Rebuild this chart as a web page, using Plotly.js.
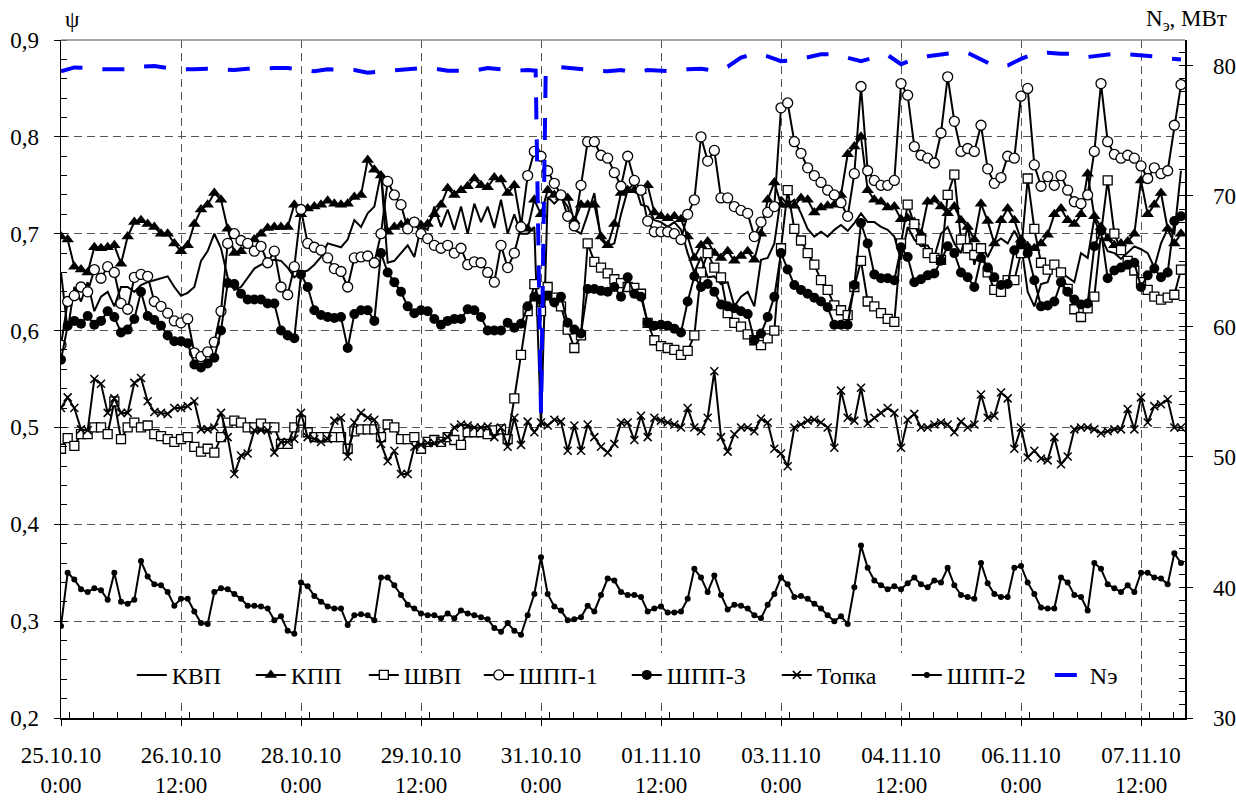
<!DOCTYPE html>
<html><head><meta charset="utf-8">
<script src="https://cdn.plot.ly/plotly-3.0.1.min.js"></script>
<style>html,body{margin:0;padding:0;background:#fff}#chart{width:1236px;height:800px}</style>
</head><body><div id="chart"></div>
<script>
// time stamps, hours from 25.10.10 0:00
const hours = [0,2,4,6,8,10,12,14,16,18,20,22,24,26,28,30,32,34,36,38,40,42,44,46,48,50,52,54,56,58,60,62,64,66,68,70,72,74,76,78,80,82,84,86,88,90,92,94,96,98,100,102,104,106,108,110,112,114,116,118,120,122,124,126,128,130,132,134,136,138,140,142,144,146,148,150,152,154,156,158,160,162,164,166,168,170,172,174,176,178,180,182,184,186,188,190,192,194,196,198,200,202,204,206,208,210,212,214,216,218,220,222,224,226,228,230,232,234,236,238,240,242,244,246,248,250,252,254,256,258,260,262,264,266,268,270,272,274,276,278,280,282,284,286,288,290,292,294,296,298,300,302,304,306,308,310,312,314,316,318,320,322,324,326,328,330,332,334,336];

const kvp = [0.66,0.6,0.645,0.63,0.65,0.62,0.635,0.64,0.625,0.645,
0.645,0.64,0.647,0.65,0.652,0.654,0.656,0.645,0.636,0.639,
0.645,0.672,0.682,0.7,0.685,0.655,0.642,0.645,0.655,0.664,
0.668,0.671,0.673,0.672,0.665,0.655,0.66,0.662,0.668,0.676,
0.69,0.688,0.686,0.694,0.714,0.707,0.721,0.728,0.762,0.67,
0.672,0.68,0.688,0.676,0.707,0.704,0.728,0.707,0.725,0.704,
0.728,0.7,0.731,0.712,0.728,0.706,0.735,0.7,0.72,0.7,
0.7,0.707,0.5,0.738,0.731,0.738,0.728,0.704,0.7,0.72,
0.742,0.694,0.687,0.69,0.72,0.745,0.752,0.73,0.728,0.714,
0.712,0.707,0.712,0.704,0.68,0.66,0.676,0.655,0.656,0.648,
0.65,0.625,0.635,0.64,0.625,0.673,0.675,0.69,0.738,0.73,
0.735,0.721,0.705,0.697,0.702,0.697,0.704,0.709,0.703,0.711,
0.721,0.712,0.712,0.707,0.704,0.697,0.673,0.707,0.694,0.687,
0.688,0.676,0.7,0.707,0.69,0.68,0.707,0.668,0.69,0.676,
0.69,0.695,0.69,0.703,0.69,0.64,0.625,0.648,0.65,0.67,
0.66,0.655,0.65,0.68,0.675,0.716,0.697,0.682,0.68,0.674,
0.68,0.687,0.684,0.68,0.665,0.69,0.705,0.7,0.765];

const kpp = [0.697,0.694,0.666,0.663,0.66,0.686,0.685,0.686,0.688,0.669,
0.697,0.712,0.714,0.71,0.707,0.7,0.7,0.69,0.682,0.688,
0.71,0.725,0.73,0.742,0.735,0.705,0.68,0.682,0.69,0.694,
0.7,0.706,0.707,0.707,0.707,0.73,0.72,0.726,0.728,0.73,
0.734,0.731,0.73,0.731,0.738,0.74,0.776,0.766,0.76,0.702,
0.707,0.709,0.711,0.712,0.709,0.71,0.72,0.73,0.747,0.74,
0.745,0.749,0.757,0.75,0.748,0.758,0.756,0.742,0.75,0.71,
0.705,0.735,0.72,0.745,0.74,0.738,0.737,0.713,0.73,0.73,
0.73,0.697,0.688,0.71,0.742,0.745,0.745,0.744,0.75,0.722,
0.718,0.716,0.718,0.715,0.697,0.675,0.688,0.692,0.68,0.675,
0.682,0.672,0.677,0.682,0.673,0.7,0.735,0.753,0.73,0.73,
0.729,0.737,0.735,0.722,0.727,0.729,0.73,0.74,0.782,0.79,
0.8,0.745,0.735,0.733,0.727,0.728,0.715,0.716,0.712,0.7,
0.733,0.735,0.728,0.721,0.728,0.714,0.707,0.694,0.731,0.713,
0.69,0.714,0.726,0.714,0.694,0.687,0.685,0.69,0.699,0.72,
0.726,0.714,0.71,0.72,0.762,0.718,0.707,0.695,0.688,0.69,
0.692,0.7,0.755,0.72,0.73,0.742,0.705,0.69,0.7];

const shvp = [0.478,0.489,0.481,0.493,0.493,0.5,0.5,0.493,0.527,0.488,
0.5,0.505,0.5,0.502,0.493,0.491,0.488,0.485,0.488,0.49,
0.48,0.475,0.478,0.474,0.49,0.505,0.507,0.505,0.5,0.5,
0.504,0.5,0.5,0.483,0.483,0.5,0.507,0.495,0.49,0.49,
0.49,0.49,0.49,0.478,0.496,0.498,0.498,0.498,0.49,0.503,
0.5,0.488,0.488,0.49,0.478,0.485,0.487,0.485,0.49,0.487,
0.482,0.495,0.495,0.495,0.493,0.497,0.498,0.488,0.53,0.575,
0.62,0.648,0.62,0.645,0.634,0.625,0.601,0.582,0.595,0.69,
0.671,0.665,0.659,0.653,0.649,0.645,0.644,0.638,0.608,0.59,
0.584,0.582,0.58,0.575,0.579,0.595,0.66,0.68,0.665,0.655,
0.618,0.608,0.604,0.596,0.59,0.585,0.592,0.6,0.685,0.745,
0.705,0.693,0.68,0.668,0.652,0.642,0.626,0.621,0.616,0.645,
0.672,0.63,0.625,0.618,0.612,0.609,0.69,0.73,0.71,0.694,
0.68,0.675,0.673,0.74,0.761,0.694,0.685,0.678,0.685,0.66,
0.642,0.64,0.652,0.652,0.68,0.757,0.705,0.67,0.663,0.668,
0.66,0.643,0.622,0.614,0.623,0.635,0.7,0.755,0.7,0.683,
0.672,0.662,0.65,0.642,0.635,0.632,0.634,0.637,0.663];

const shpp1 = [0.585,0.63,0.636,0.645,0.64,0.663,0.654,0.666,0.66,0.628,
0.622,0.655,0.658,0.656,0.63,0.625,0.618,0.61,0.608,0.612,
0.577,0.573,0.578,0.588,0.62,0.69,0.7,0.693,0.69,0.682,
0.687,0.67,0.682,0.645,0.637,0.666,0.725,0.69,0.686,0.683,
0.675,0.664,0.661,0.645,0.675,0.676,0.677,0.67,0.7,0.754,
0.74,0.73,0.705,0.712,0.7,0.695,0.688,0.685,0.688,0.68,
0.685,0.668,0.671,0.67,0.66,0.65,0.688,0.665,0.68,0.707,
0.76,0.785,0.78,0.765,0.752,0.74,0.718,0.708,0.75,0.795,
0.795,0.781,0.778,0.763,0.749,0.78,0.755,0.745,0.713,0.702,
0.702,0.702,0.7,0.694,0.72,0.735,0.8,0.775,0.786,0.737,
0.737,0.728,0.724,0.721,0.697,0.712,0.722,0.728,0.83,0.835,
0.795,0.783,0.768,0.76,0.753,0.745,0.74,0.732,0.718,0.762,
0.852,0.765,0.755,0.75,0.75,0.755,0.855,0.843,0.79,0.781,
0.778,0.773,0.804,0.862,0.816,0.785,0.788,0.785,0.812,0.767,
0.752,0.758,0.78,0.778,0.842,0.85,0.771,0.749,0.759,0.75,
0.76,0.745,0.733,0.731,0.74,0.785,0.855,0.795,0.782,0.778,
0.781,0.778,0.77,0.757,0.768,0.762,0.765,0.812,0.854];

const shpp3 = [0.57,0.605,0.61,0.607,0.615,0.606,0.61,0.62,0.614,0.598,
0.601,0.612,0.64,0.615,0.611,0.605,0.595,0.589,0.589,0.587,
0.565,0.562,0.566,0.572,0.6,0.649,0.648,0.638,0.632,0.632,
0.632,0.628,0.628,0.6,0.595,0.592,0.658,0.645,0.621,0.616,
0.614,0.613,0.614,0.582,0.617,0.621,0.621,0.61,0.68,0.66,
0.65,0.64,0.625,0.618,0.621,0.62,0.612,0.606,0.61,0.612,
0.612,0.622,0.621,0.614,0.6,0.6,0.6,0.608,0.603,0.607,
0.625,0.635,0.632,0.636,0.629,0.635,0.608,0.601,0.597,0.643,
0.643,0.641,0.64,0.645,0.635,0.655,0.638,0.635,0.608,0.605,
0.606,0.605,0.602,0.598,0.63,0.656,0.645,0.648,0.64,0.627,
0.625,0.623,0.62,0.617,0.59,0.597,0.614,0.635,0.68,0.663,
0.647,0.642,0.638,0.634,0.63,0.624,0.606,0.606,0.606,0.647,
0.711,0.69,0.658,0.654,0.654,0.652,0.686,0.676,0.65,0.653,
0.657,0.659,0.672,0.687,0.68,0.66,0.655,0.645,0.675,0.665,
0.655,0.647,0.648,0.683,0.689,0.68,0.652,0.625,0.626,0.63,
0.65,0.64,0.632,0.627,0.628,0.687,0.703,0.654,0.662,0.665,
0.668,0.67,0.645,0.657,0.664,0.655,0.66,0.713,0.718];

const topka = [0.52,0.531,0.52,0.498,0.497,0.55,0.545,0.515,0.53,0.515,
0.515,0.546,0.551,0.527,0.516,0.515,0.514,0.52,0.52,0.522,
0.527,0.498,0.498,0.5,0.515,0.49,0.452,0.471,0.473,0.497,
0.497,0.497,0.474,0.485,0.485,0.488,0.515,0.49,0.488,0.485,
0.488,0.507,0.51,0.47,0.505,0.515,0.51,0.508,0.483,0.465,
0.476,0.452,0.452,0.48,0.482,0.484,0.484,0.486,0.49,0.5,
0.503,0.502,0.5,0.5,0.501,0.49,0.5,0.48,0.51,0.482,
0.506,0.495,0.505,0.502,0.508,0.506,0.476,0.502,0.476,0.503,
0.49,0.48,0.474,0.483,0.505,0.505,0.487,0.512,0.49,0.51,
0.507,0.505,0.503,0.5,0.52,0.5,0.496,0.51,0.558,0.49,
0.475,0.493,0.5,0.5,0.496,0.509,0.505,0.478,0.473,0.46,
0.5,0.503,0.507,0.508,0.505,0.5,0.479,0.538,0.51,0.507,
0.541,0.504,0.51,0.515,0.52,0.515,0.479,0.508,0.514,0.5,
0.5,0.503,0.505,0.503,0.495,0.506,0.5,0.503,0.534,0.51,
0.512,0.536,0.53,0.478,0.5,0.469,0.476,0.468,0.466,0.49,
0.462,0.47,0.498,0.5,0.5,0.498,0.494,0.496,0.498,0.498,
0.519,0.498,0.531,0.505,0.522,0.524,0.529,0.5,0.5];

const shpp2 = [0.295,0.35,0.343,0.333,0.33,0.334,0.332,0.322,0.35,0.32,
0.318,0.322,0.362,0.346,0.338,0.337,0.33,0.316,0.323,0.323,
0.31,0.298,0.297,0.33,0.334,0.333,0.328,0.323,0.316,0.316,
0.315,0.313,0.301,0.305,0.29,0.287,0.34,0.336,0.326,0.32,
0.315,0.313,0.313,0.296,0.306,0.307,0.306,0.301,0.345,0.345,
0.337,0.327,0.317,0.313,0.308,0.306,0.306,0.303,0.308,0.303,
0.311,0.308,0.306,0.304,0.302,0.293,0.289,0.298,0.29,0.286,
0.306,0.328,0.366,0.328,0.315,0.311,0.301,0.302,0.304,0.316,
0.31,0.327,0.344,0.342,0.33,0.327,0.327,0.325,0.31,0.313,
0.315,0.309,0.309,0.31,0.323,0.354,0.345,0.33,0.347,0.327,
0.312,0.317,0.316,0.313,0.306,0.303,0.317,0.328,0.345,0.338,
0.325,0.326,0.323,0.318,0.313,0.306,0.3,0.305,0.297,0.335,
0.378,0.355,0.342,0.337,0.333,0.336,0.333,0.339,0.345,0.338,
0.335,0.342,0.34,0.355,0.337,0.327,0.325,0.323,0.36,0.339,
0.328,0.325,0.325,0.355,0.357,0.34,0.328,0.314,0.313,0.313,
0.345,0.34,0.327,0.325,0.311,0.36,0.354,0.338,0.334,0.33,
0.337,0.33,0.35,0.35,0.345,0.344,0.338,0.37,0.36];

// electric load, MW (right axis)
const hoursN = [0,4,8,12,16,20,24,28,32,36,40,44,48,52,56,60,64,68,72,76,80,84,88,92,96,100,104,108,112,116,120,124,128,132,136,140,142.4,144,145.4,148,152,156,160,164,168,172,176,180,184,188,192,196,200,204,208,212,216,220,224,228,232,236,240,244,248,252,256,260,264,268,272,276,280,284,288,292,296,300,304,308,312,316,320,324,328,332,336];
const nE = [79.55,79.85,79.8,79.7,79.7,79.7,79.9,79.95,79.8,79.7,79.7,79.75,79.7,79.65,79.75,79.8,79.8,79.8,79.65,79.55,79.7,79.7,79.65,79.45,79.55,79.65,79.7,79.8,79.75,79.6,79.6,79.6,79.8,79.7,79.6,79.65,79.6,53.4,79.3,79.9,79.8,79.75,79.6,79.55,79.65,79.45,79.65,79.6,79.55,79.7,79.75,79.6,79.9,80.6,80.9,80.7,80.33,80.4,80.6,80.85,80.85,80.55,80.33,80.6,80.8,80.1,80.5,80.7,80.8,80.97,80.97,80.5,79.95,80.0,80.5,80.9,80.97,80.9,80.9,80.65,80.75,80.9,80.85,80.8,80.7,80.55,80.45];

const names = ['КВП','КПП','ШВП','ШПП-1','ШПП-3','Топка','ШПП-2','Nэ'];

function toDate(h){
  return new Date(Date.UTC(2010,9,25) + h*3600000).toISOString().slice(0,16).replace('T',' ');
}
const X = hours.map(toDate);
const XN = hoursN.map(toDate);

const FONT = '"Liberation Serif", "Times New Roman", serif';
const lineK = {color:'#000', width:2};

const traces = [
  {x:X, y:kvp, name:names[0], mode:'lines', line:lineK, legendwidth:74},
  {x:X, y:kpp, name:names[1], mode:'lines+markers', line:lineK, legendwidth:68,
   marker:{symbol:'triangle-up', size:11, color:'#000'}},
  {x:X, y:shvp, name:names[2], mode:'lines+markers', line:lineK, legendwidth:70,
   marker:{symbol:'square', size:9, color:'#fff', line:{color:'#000', width:1.3}}},
  {x:X, y:shpp1, name:names[3], mode:'lines+markers', line:lineK, legendwidth:103,
   marker:{symbol:'circle', size:10, color:'#fff', line:{color:'#000', width:1.3}}},
  {x:X, y:shpp3, name:names[4], mode:'lines+markers', line:lineK, legendwidth:105,
   marker:{symbol:'circle', size:10, color:'#000'}},
  {x:X, y:topka, name:names[5], mode:'lines+markers', line:lineK, legendwidth:85,
   marker:{symbol:'x-thin-open', size:8, color:'#000', line:{color:'#000', width:1.5}}},
  {x:X, y:shpp2, name:names[6], mode:'lines+markers', line:lineK, legendwidth:98,
   marker:{symbol:'circle', size:6, color:'#000'}},
  {x:XN, y:nE, name:names[7], mode:'lines', yaxis:'y2', legendwidth:40,
   line:{color:'#0000ff', width:4, dash:'22px,20px'}}
];

const layout = {
  width:1236, height:800,
  margin:{l:61, r:51, t:40, b:82},
  paper_bgcolor:'#fff', plot_bgcolor:'#fff',
  separators:', ',
  font:{family:FONT, size:23, color:'#000'},
  showlegend:true,
  legend:{orientation:'h', x:0.063, y:0.063, xanchor:'left', yanchor:'middle',
    bgcolor:'#fff', font:{family:FONT, size:24, color:'#000'}, traceorder:'normal'},
  xaxis:{type:'date', range:['2010-10-25 00:00','2010-11-08 01:12'],
    tick0:'2010-10-25 00:00', dtick:129600000, tickformat:'%d.%m.%y<br>%-H:%M',
    showgrid:true, gridcolor:'#555', griddash:'8px,5px', gridwidth:1,
    showline:true, linecolor:'#000', linewidth:1.5,
    ticks:'outside', ticklen:6, tickcolor:'#000', ticklabelstandoff:10,
    minor:{dtick:25920000, ticks:'inside', ticklen:6, tickcolor:'#000', showgrid:false},
    zeroline:false, tickfont:{family:FONT, size:23}},
  yaxis:{range:[0.2,0.9], dtick:0.1, tickformat:'.1f',
    showgrid:true, gridcolor:'#555', griddash:'8px,5px', gridwidth:1,
    showline:true, linecolor:'#000', linewidth:1.5,
    ticks:'outside', ticklen:6, tickcolor:'#000', ticklabelstandoff:10,
    minor:{dtick:0.02, ticks:'inside', ticklen:6, tickcolor:'#000', showgrid:false},
    zeroline:false, tickfont:{family:FONT, size:23}},
  yaxis2:{overlaying:'y', side:'right', range:[30,81.95], dtick:10,
    showgrid:false, showline:true, linecolor:'#000', linewidth:1.5,
    ticks:'outside', ticklen:6, tickcolor:'#000', ticklabelstandoff:16,
    minor:{dtick:1, ticks:'inside', ticklen:6, tickcolor:'#000'},
    zeroline:false, tickfont:{family:FONT, size:23}},
  shapes:[{type:'line', xref:'paper', yref:'paper', x0:0, x1:1, y0:1, y1:1,
    line:{color:'#888', width:1.5}}],
  annotations:[
    {text:'ψ', xref:'paper', yref:'paper', x:0.002, y:1.03, xanchor:'left', yanchor:'middle',
     showarrow:false, font:{family:FONT, size:23}},
    {text:'N<sub>э</sub>, МВт', xref:'paper', yref:'paper', x:1.039, y:1.03, xanchor:'right', yanchor:'middle',
     showarrow:false, font:{family:FONT, size:23}}
  ]
};

Plotly.newPlot('chart', traces, layout, {displayModeBar:false, staticPlot:true});
</script>
</body></html>
